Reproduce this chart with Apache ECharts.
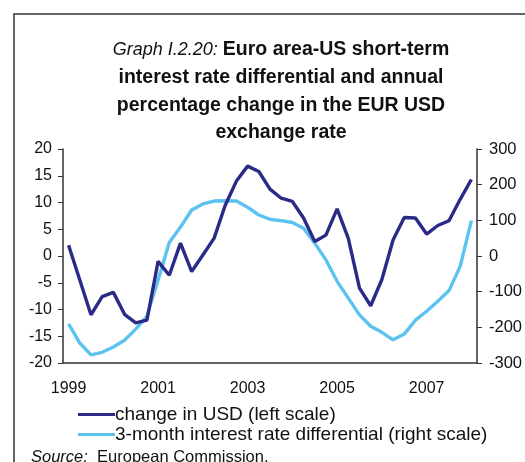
<!DOCTYPE html>
<html>
<head>
<meta charset="utf-8">
<script src="https://cdn.jsdelivr.net/npm/echarts@6/dist/echarts.min.js"></script>
<style>
  html, body { margin: 0; padding: 0; background: #fff; }
  #chart { width: 525px; height: 462px; }
</style>
</head>
<body>
<div id="chart"></div>
<script>
// quarterly, 1999Q1 .. 2008Q1
const quarters = [];
for (let y = 1999; y <= 2008; y++) {
    for (let q = 1; q <= 4; q++) {
        if (y === 2008 && q > 1) break;
        quarters.push(y + 'Q' + q);
    }
}
const usdChange = [2, -4.5, -11, -7.6, -6.8, -10.9, -12.5, -12, -1, -3.6, 2.4, -2.9, 0.2, 3.3, 9.5, 14, 16.8,
    15.8, 12.5, 10.8, 10.2, 7.1, 2.7, 3.9, 8.8, 3.3, -6, -9.3, -4.4, 3, 7.2, 7.1, 4.1, 5.7, 6.6, 10.6, 14.3];
const rateDiff = [-190, -244, -277, -270, -255, -236, -205, -169, -67, 38, 81, 129, 146, 154, 155, 154, 137,
    115, 103, 99, 94, 78, 36, -11, -71, -118, -165, -197, -214, -235, -219, -180, -155, -127, -97, -29, 99];
const leftTicks = { min: -20, max: 20, interval: 5 };
const rightTicks = { min: -300, max: 300, interval: 100 };

const axisColor = '#333';
const font = 'Liberation Sans, Arial, sans-serif';

const chart = echarts.init(document.getElementById('chart'));
const option = {
    animation: false,
    textStyle: { fontFamily: font },
    title: [
        {
            text: '{i|Graph I.2.20: }{b|Euro area-US short-term}\n{b|interest rate differential and annual}\n{b|percentage change in the EUR USD}\n{b|exchange rate}',
            left: 276,
            top: 31,
            textAlign: 'center',
            textStyle: {
                fontWeight: 'normal',
                rich: {
                    i: { fontStyle: 'italic', fontWeight: 'normal', fontSize: 18, color: '#111', fontFamily: font, lineHeight: 27.7 },
                    b: { fontWeight: 'bold', fontSize: 19.5, color: '#111', fontFamily: font, lineHeight: 27.7 }
                }
            }
        },
        {
            text: '{i|Source:}{n|  European Commission.}',
            left: 26,
            top: 444,
            textStyle: {
                fontWeight: 'normal',
                rich: {
                    i: { fontStyle: 'italic', fontWeight: 'normal', fontSize: 16.5, color: '#111', fontFamily: font },
                    n: { fontWeight: 'normal', fontSize: 16.5, color: '#111', fontFamily: font }
                }
            }
        }
    ],
    legend: {
        orient: 'vertical',
        left: 73,
        top: 400,
        icon: 'rect',
        itemWidth: 37,
        itemHeight: 3,
        itemGap: 1,
        textStyle: { fontSize: 19, color: '#111', fontFamily: font, padding: [0, 0, 0, -5], lineHeight: 19 },
        data: ['change in USD (left scale)', '3-month interest rate differential (right scale)']
    },
    grid: { left: 63, right: 47, top: 149, bottom: 99 },
    xAxis: {
        type: 'category',
        data: quarters,
        boundaryGap: true,
        axisLine: { onZero: false, lineStyle: { color: axisColor, width: 1.5 } },
        axisTick: { interval: 1, length: 5, lineStyle: { color: axisColor } },
        axisLabel: {
            interval: 7,
            margin: 18,
            fontSize: 16,
            color: '#111',
            formatter: v => v.slice(0, 4)
        }
    },
    yAxis: [
        {
            type: 'value',
            min: leftTicks.min, max: leftTicks.max, interval: leftTicks.interval,
            axisLine: { show: true, lineStyle: { color: axisColor, width: 1.5 } },
            axisTick: { show: true, length: 5, lineStyle: { color: axisColor } },
            axisLabel: { fontSize: 16, color: '#111', margin: 11 },
            splitLine: { show: false }
        },
        {
            type: 'value',
            position: 'right',
            min: rightTicks.min, max: rightTicks.max, interval: rightTicks.interval,
            axisLine: { show: true, lineStyle: { color: axisColor, width: 1.5 } },
            axisTick: { show: true, length: 5, lineStyle: { color: axisColor } },
            axisLabel: { fontSize: 16.5, color: '#111', margin: 12 },
            splitLine: { show: false }
        }
    ],
    series: [
        {
            name: 'change in USD (left scale)',
            type: 'line',
            yAxisIndex: 0,
            data: usdChange,
            symbol: 'none',
            color: '#2B2A87',
            lineStyle: { width: 3.4, color: '#2B2A87' },
            z: 3
        },
        {
            name: '3-month interest rate differential (right scale)',
            type: 'line',
            yAxisIndex: 1,
            data: rateDiff,
            symbol: 'none',
            color: '#5CC3F0',
            lineStyle: { width: 3.4, color: '#5CC3F0' },
            z: 2
        }
    ],
    graphic: [
        {
            type: 'polyline',
            shape: { points: [[14, 462], [14, 14], [525, 14]] },
            style: { stroke: '#333', lineWidth: 1.5, fill: null }
        }
    ]
};
chart.setOption(option);
</script>
</body>
</html>
